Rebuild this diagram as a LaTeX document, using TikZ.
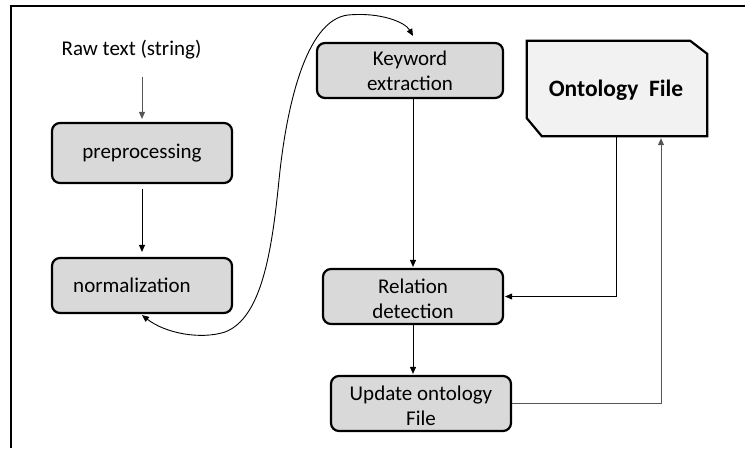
\documentclass[tikz,border=0pt]{standalone}
\usepackage{fontspec}
\setmainfont{Carlito}
\usetikzlibrary{arrows.meta}
\definecolor{boxgray}{HTML}{D9D9D9}
\definecolor{ontofill}{HTML}{F2F2F2}
\definecolor{linegray}{HTML}{555555}
\begin{document}
\begin{tikzpicture}[x=1pt,y=-1pt,
  font=\fontsize{21}{25}\selectfont,
  box/.style={draw, line width=2.2pt, rounded corners=8pt, fill=boxgray,
    minimum width=180pt, minimum height=55pt, align=center, inner sep=0pt},
  lbl/.style={align=center, inner sep=0pt},
  tip/.style={-{Triangle[length=7pt,width=6pt]}},
  conn/.style={line width=0.9pt, tip},
  frame/.style={line width=2pt}]
\useasboundingbox (0,0) rectangle (745,448);
\draw[frame] (745,6) -- (11,6) -- (11,448);

\node[lbl] (raw) at (131.5,50) {Raw text (string)};
\node[box, minimum height=60pt] (pre) at (142,153) {preprocessing};
\node[box] (norm) at (142,285.5) {};
\node[lbl] (normt) at (132,285) {normalization};
\node[box, minimum width=186pt] (kw) at (410,70.5) {Keyword\\extraction};
\node[box] (rel) at (413,296.5) {};
\node[lbl] (relt) at (413,299) {Relation\\detection};
\node[box] (upd) at (421,403.5) {};
\node[lbl] (updt) at (421,405.5) {Update ontology\\File};

\node[minimum width=180pt, minimum height=95pt, inner sep=0pt] (onto) at (617,88.5) {};
\draw[line width=2.2pt, fill=ontofill]
  (onto.north west) -- ([xshift=-17pt]onto.north east) -- ([yshift=-13pt]onto.north east)
  -- (onto.south east) -- ([xshift=15pt]onto.south west) -- ([yshift=18pt]onto.south west) -- cycle;
\node[lbl, font=\fontsize{23.5}{28}\selectfont\bfseries] (ontot) at (616,90) {Ontology\ \ File};

\draw[conn, linegray, shorten <=17pt, shorten >=3pt] (raw.south -| pre.north) -- (pre.north);
\draw[conn, shorten <=5pt, shorten >=5pt] (pre.south) -- (norm.north);
\draw[conn, shorten >=1pt] (kw.south -| rel.north) -- (rel.north);
\draw[conn, shorten >=1pt] (rel.south) -- (rel.south |- upd.north);
\draw[conn, shorten >=1pt] ([xshift=-1pt]onto.south) |- (rel.east);
\draw[conn, linegray, shorten >=2pt] (upd.east) -| ([xshift=44pt]onto.south);

\draw[line width=0.9pt, {Triangle[length=7pt,width=6pt]}-{Triangle[length=7pt,width=6pt]}]
  ([yshift=-1pt]norm.south) .. controls (165,333) and (200,340) .. (225,332)
  .. controls (262,318) and (272,250) .. (279,180)
  .. controls (286,110) and (305,20) .. (348,15)
  .. controls (380,12) and (405,22) .. ([xshift=3pt,yshift=6pt]kw.north);
\end{tikzpicture}
\end{document}
